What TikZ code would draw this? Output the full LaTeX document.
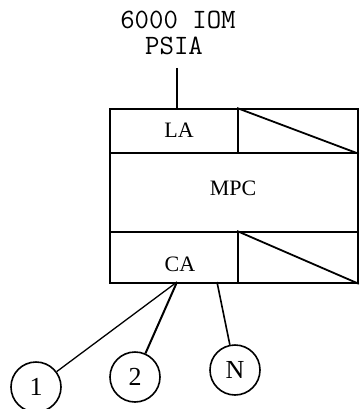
\documentclass[tikz,border=0pt]{standalone}
\usepackage{fontspec}
\setmainfont{Liberation Serif}
\begin{document}
\begin{tikzpicture}[x=1pt,y=-1pt,
  boxline/.style={line width=1.8pt},
  cell/.style={draw,line width=1.8pt,inner sep=0pt,anchor=north west},
  port/.style={draw,circle,line width=1.6pt,inner sep=0pt,minimum size=50pt,font=\fontsize{26}{26}\selectfont},
  link/.style={line width=1.6pt},
  headtxt/.style={font=\ttfamily\fontsize{28}{28}\selectfont},
  lbl/.style={font=\fontsize{22}{22}\selectfont}]
\useasboundingbox (0,0) rectangle (359,409);
% heading and its feed line
\node[headtxt] (head1) at (178,20) {6000 IOM};
\node[headtxt] (head2) at (174,46) {PSIA};
% the three stacked blocks
\node[cell,minimum width=128pt,minimum height=44pt] (la) at (109,108) {};
\node[cell,minimum width=120pt,minimum height=44pt] (laR) at (237,108) {};
\node[cell,minimum width=248pt,minimum height=79pt] (mpc) at (109,152) {};
\node[cell,minimum width=128pt,minimum height=51pt] (ca) at (109,231) {};
\node[cell,minimum width=120pt,minimum height=51pt] (caR) at (237,231) {};
\draw[boxline] (laR.north west) -- (laR.south east);
\draw[boxline] (caR.north west) -- (caR.south east);
\node[lbl] (latext) at (179,130) {LA};
\node[lbl] (mpctext) at (233,188) {MPC};
\node[lbl] (catext) at (180,264) {CA};
\coordinate (feed) at (177,68);
\coordinate (latop) at (177,108);
\draw[link] (feed) -- (latop);
% attached units
\node[port] (u1) at (36,387) {1};
\node[port] (u2) at (135,377) {2};
\node[port] (un) at (235,370) {N};
\coordinate (caA) at (177,282);
\coordinate (caB) at (217,282);
\draw[line width=1.3pt] (caA) -- (u1);
\draw[line width=2pt] (caA) -- (u2);
\draw[link] (caB) -- (un);
\end{tikzpicture}
\end{document}
